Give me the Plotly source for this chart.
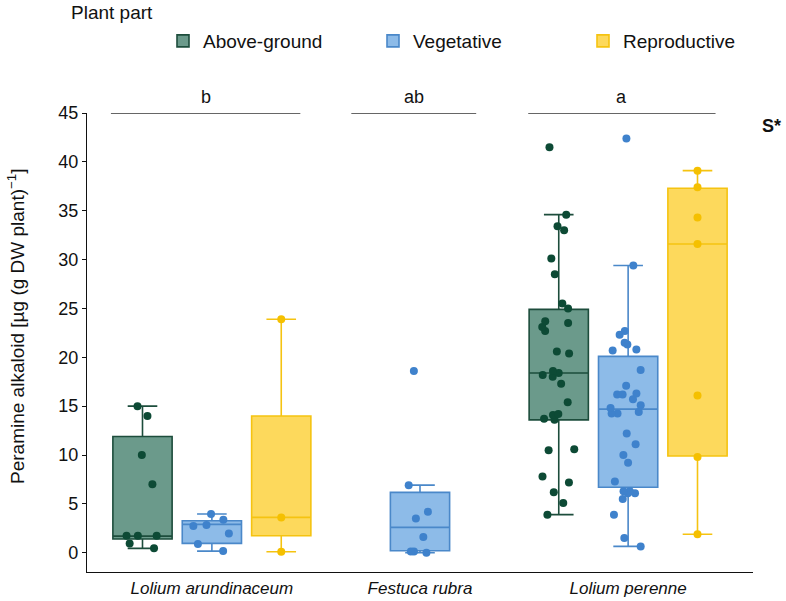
import plotly.graph_objects as go

# ---------------- data ----------------
species = ["Lolium arundinaceum", "Festuca rubra", "Lolium perenne"]
parts = ["Above-ground", "Vegetative", "Reproductive"]

# individual observations
ag_arund = [15.0, 14.0, 10.0, 7.0, 1.75, 1.75, 1.75, 0.95, 0.45]
ag_peren = [41.5, 34.6, 33.0, 33.4, 30.1, 28.5, 25.5, 25.0, 23.7, 23.1, 23.5,
            22.7, 20.4, 20.6, 18.6, 18.2, 18.4, 18.0, 17.3, 15.4, 14.1, 13.7,
            14.2, 13.6, 10.5, 10.6, 7.8, 7.2, 6.2, 5.1, 3.9]
veg_arund = [3.96, 3.38, 2.83, 2.73, 1.98, 0.89, 0.17]
veg_festu = [18.6, 6.9, 4.2, 3.5, 1.6, 0.14, 0.14, 0.0]
veg_peren = [42.4, 29.4, 22.7, 22.3, 21.3, 20.8, 21.5, 20.7, 18.7, 17.1, 16.2,
             16.2, 16.3, 15.7, 15.1, 14.8, 14.4, 14.25, 14.25, 12.2, 11.1, 10.0,
             9.2, 7.3, 6.1, 5.5, 6.1, 6.3, 6.3, 3.9, 1.5, 0.65]
rep_arund = [23.9, 3.6, 0.1]
rep_peren = [39.1, 37.4, 34.3, 31.6, 16.1, 9.8, 1.9]

# box statistics as drawn (q1, median, q3, lower/upper whisker ends)
ag_species = ["Lolium arundinaceum", "Lolium perenne"]
ag_q1 = [1.40, 13.6]
ag_med = [1.70, 18.4]
ag_q3 = [11.9, 24.9]
ag_lo = [0.45, 3.9]
ag_hi = [15.0, 34.6]

veg_species = ["Lolium arundinaceum", "Festuca rubra", "Lolium perenne"]
veg_q1 = [0.96, 0.2, 6.7]
veg_med = [2.9, 2.6, 14.7]
veg_q3 = [3.28, 6.18, 20.1]
veg_lo = [0.17, 0.0, 0.65]
veg_hi = [3.96, 6.92, 29.4]

rep_species = ["Lolium arundinaceum", "Lolium perenne"]
rep_q1 = [1.74, 9.9]
rep_med = [3.62, 31.6]
rep_q3 = [14.0, 37.3]
rep_lo = [0.1, 1.9]
rep_hi = [23.9, 39.1]

sig_letters = ["b", "ab", "a"]
y_ticks = [0, 5, 10, 15, 20, 25, 30, 35, 40, 45]

# ---------------- styles ----------------
fills = {"Above-ground": "#6b9a8b", "Vegetative": "#8dbbe8", "Reproductive": "#fdd95c"}
lines = {"Above-ground": "#1d4d3c", "Vegetative": "#4a88c9", "Reproductive": "#f5c311"}
dots = {"Above-ground": "#0d4a35", "Vegetative": "#3f82cc", "Reproductive": "#f5c000"}
jitters = {"Above-ground": 0.75, "Vegetative": 0.75, "Reproductive": 0.0}
FONT = "Liberation Sans, Arial, Helvetica, sans-serif"
W, H = 786, 601
ML, MR, MT, MB = 87, 33, 113, 29

stats = {
    "Above-ground": (ag_species, ag_q1, ag_med, ag_q3, ag_lo, ag_hi),
    "Vegetative": (veg_species, veg_q1, veg_med, veg_q3, veg_lo, veg_hi),
    "Reproductive": (rep_species, rep_q1, rep_med, rep_q3, rep_lo, rep_hi),
}
points = {
    "Above-ground": [("Lolium arundinaceum", ag_arund), ("Lolium perenne", ag_peren)],
    "Vegetative": [("Lolium arundinaceum", veg_arund), ("Festuca rubra", veg_festu),
                   ("Lolium perenne", veg_peren)],
    "Reproductive": [("Lolium arundinaceum", rep_arund), ("Lolium perenne", rep_peren)],
}

fig = go.Figure()
for p in parts:
    sp, q1, med, q3, lo, hi = stats[p]
    fig.add_trace(go.Box(
        name=p, x=sp, q1=q1, median=med, q3=q3, lowerfence=lo, upperfence=hi,
        fillcolor=fills[p], line=dict(color=lines[p], width=1.6),
        whiskerwidth=0.5, boxpoints=False, offsetgroup=p, legendgroup=p,
    ))
for p in parts:
    xs, ys = [], []
    for s, vals in points[p]:
        xs += [s] * len(vals)
        ys += vals
    fig.add_trace(go.Box(
        name=p, x=xs, y=ys, boxpoints="all", jitter=jitters[p], pointpos=0,
        fillcolor="rgba(0,0,0,0)", line=dict(color="rgba(0,0,0,0)", width=0),
        marker=dict(color=dots[p], size=8), offsetgroup=p, legendgroup=p,
        showlegend=False, hoveron="points",
    ))

# significance letters and lines
line_half = [0.455, 0.30, 0.45]
center_shift = -0.03
for i, (lab, hw) in enumerate(zip(sig_letters, line_half)):
    c = i + center_shift
    fig.add_shape(type="line", xref="x", yref="y", x0=c - hw, x1=c + hw, y0=45, y1=45,
                  line=dict(color="#333333", width=1.6))
    fig.add_annotation(x=c, y=45, xref="x", yref="y", text=lab, showarrow=False,
                       yanchor="bottom", yshift=4, font=dict(size=18, color="#111"))

pw, ph = W - ML - MR, H - MT - MB


def px_x(px):
    return (px - ML) / pw


def px_y(py):
    return (H - MB - py) / ph


fig.add_annotation(x=px_x(771), y=px_y(126), xref="paper", yref="paper", text="<b>S*</b>",
                   showarrow=False, xanchor="center", yanchor="middle",
                   font=dict(size=18, color="#111"))
fig.add_annotation(x=px_x(69), y=px_y(13), xref="paper", yref="paper", text="Plant part",
                   showarrow=False, xanchor="left", yanchor="middle",
                   font=dict(size=19, color="#111"))
fig.add_annotation(x=px_x(16), y=px_y(327), xref="paper", yref="paper",
                   text="Peramine alkaloid [µg (g DW plant)<sup>−1</sup>]",
                   showarrow=False, textangle=-90, xanchor="center", yanchor="middle",
                   font=dict(size=19, color="#111"))

fig.update_layout(
    width=W, height=H,
    margin=dict(l=ML, r=MR, t=MT, b=MB, autoexpand=False),
    paper_bgcolor="white", plot_bgcolor="white",
    font=dict(family=FONT, size=17, color="#111"),
    boxmode="group", boxgap=0.0, boxgroupgap=0.146,
    showlegend=True,
    legend=dict(orientation="h", xref="container", yref="container",
                x=163 / W, y=1 - 22 / H, xanchor="left", yanchor="top",
                font=dict(size=19), bgcolor="rgba(0,0,0,0)", entrywidth=165,
                entrywidthmode="pixels"),
    xaxis=dict(type="category", categoryorder="array", categoryarray=species,
               range=[-0.6, 2.6], showline=True, linecolor="#111", linewidth=1.2,
               ticks="", showgrid=False, zeroline=False, automargin=False,
               tickfont=dict(size=17, style="italic", color="#111")),
    yaxis=dict(range=[-1.97, 45], tickvals=y_ticks, showline=True, linecolor="#111",
               linewidth=1.2, ticks="outside", ticklen=4, tickcolor="#111",
               showgrid=False, zeroline=False, automargin=False,
               tickfont=dict(size=18, color="#111")),
)

fig.write_html("out.html", config={"displayModeBar": False},
               post_script="document.body.style.margin='0';document.body.style.overflow='hidden';")
